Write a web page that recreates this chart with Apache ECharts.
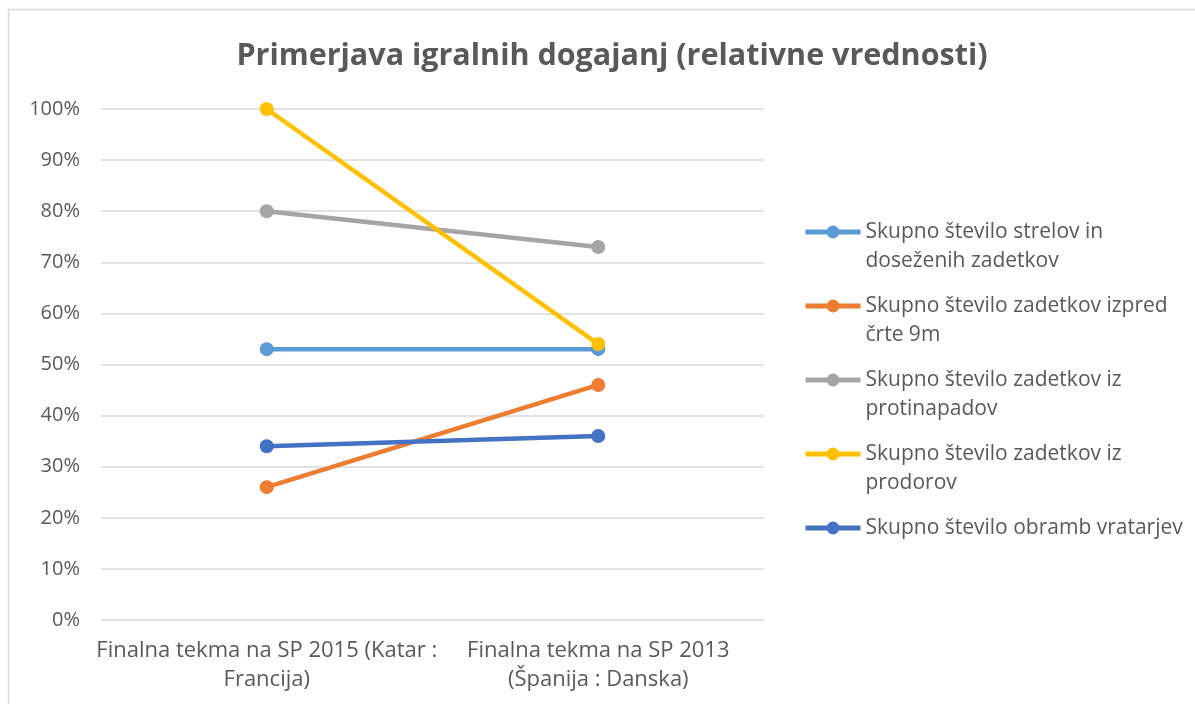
<!DOCTYPE html>
<html>
<head>
<meta charset="utf-8">
<script src="https://cdn.jsdelivr.net/npm/echarts@6/dist/echarts.min.js"></script>
<style>
  html, body { margin: 0; padding: 0; background: #fff; }
  #myCharts { width: 1195px; height: 704px; }
</style>
</head>
<body>
<div id="myCharts"></div>
<script>
// podatki
const categories = [
  "Finalna tekma na SP 2015 (Katar :\nFrancija)",
  "Finalna tekma na SP 2013\n(Španija : Danska)"
];
const seriesNames = [
  "Skupno število strelov in doseženih zadetkov",
  "Skupno število zadetkov izpred črte 9m",
  "Skupno število zadetkov iz protinapadov",
  "Skupno število zadetkov iz prodorov",
  "Skupno število obramb vratarjev"
];
// legend text split like in the original (blank first line keeps icon on line 1)
const legendLabels = [
  " \nSkupno število strelov in\ndoseženih zadetkov",
  " \nSkupno število zadetkov izpred\nčrte 9m",
  " \nSkupno število zadetkov iz\nprotinapadov",
  " \nSkupno število zadetkov iz\nprodorov",
  " \nSkupno število obramb vratarjev\n "
];
const streli = [53, 53];
const izpred9m = [26, 46];
const protinapadi = [80, 73];
const prodori = [100, 54];
const obrambe = [34, 36];
const yTicks = [0, 10, 20, 30, 40, 50, 60, 70, 80, 90, 100];

const colors = ["#5B9BD5", "#ED7D31", "#A5A5A5", "#FFC000", "#4472C4"];
const values = [streli, izpred9m, protinapadi, prodori, obrambe];
const font = "'Open Sans', 'DejaVu Sans', sans-serif";

const myCharts = echarts.init(document.getElementById("myCharts"));
let option = {
  animation: false,
  color: colors,
  title: {
    text: "Primerjava igralnih dogajanj (relativne vrednosti)",
    left: 607,
    textAlign: "center",
    top: 36,
    textStyle: {
      color: "#595959",
      fontFamily: font,
      fontWeight: "bold",
      fontSize: 30.5
    }
  },
  graphic: [
    {
      type: "rect",
      shape: { x: 8.5, y: 9.5, width: 1300, height: 900 },
      style: { fill: "none", stroke: "#D9D9D9", lineWidth: 1.5 },
      silent: true
    }
  ],
  legend: {
    orient: "vertical",
    left: 803,
    top: 188.5,
    padding: 0,
    itemWidth: 55,
    itemHeight: 16,
    itemGap: -13,
    lineStyle: { width: 5 },
    textStyle: {
      color: "#595959",
      fontFamily: font,
      fontSize: 21,
      lineHeight: 29
    },
    data: seriesNames,
    formatter: function(name) {
      return legendLabels[seriesNames.indexOf(name)];
    }
  },
  grid: {
    left: 101,
    right: 431,
    top: 109,
    bottom: 84,
    containLabel: false
  },
  xAxis: {
    type: "category",
    data: categories,
    boundaryGap: true,
    axisLine: { show: false },
    axisTick: { show: false },
    axisLabel: {
      color: "#595959",
      fontFamily: font,
      fontSize: 22,
      lineHeight: 29,
      margin: 16,
      interval: 0
    }
  },
  yAxis: {
    type: "value",
    min: yTicks[0],
    max: yTicks[yTicks.length - 1],
    interval: 10,
    axisLine: { show: false },
    axisTick: { show: false },
    axisLabel: {
      color: "#595959",
      fontFamily: font,
      fontSize: 20,
      margin: 21,
      formatter: "{value}%"
    },
    splitLine: {
      lineStyle: { color: "#D9D9D9", width: 1.5 }
    }
  },
  series: seriesNames.map(function(name, i) {
    return {
      name: name,
      type: "line",
      data: values[i],
      symbol: "circle",
      symbolSize: 14,
      lineStyle: { width: 4.5, color: colors[i] },
      itemStyle: { color: colors[i] }
    };
  })
};
myCharts.setOption(option);
</script>
</body>
</html>
